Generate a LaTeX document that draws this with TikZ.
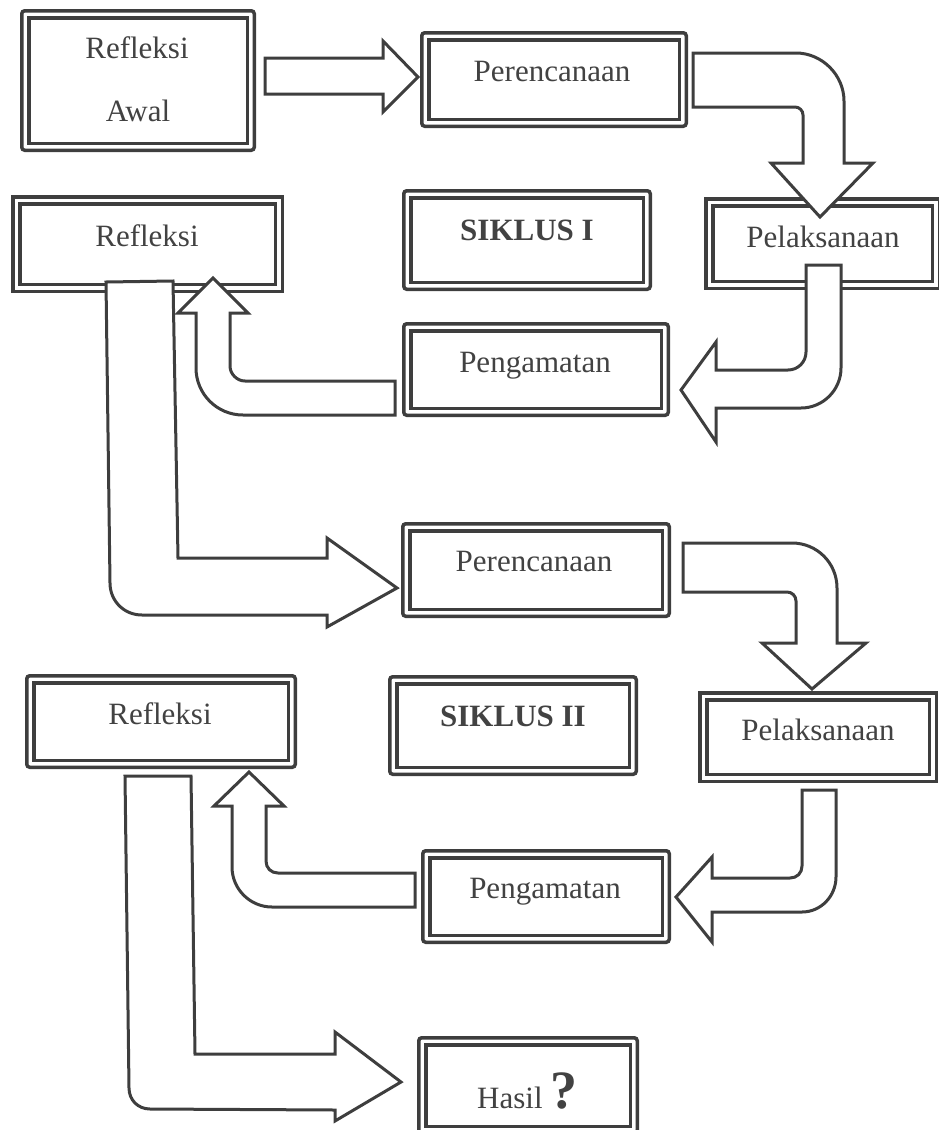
\documentclass[tikz,border=0pt]{standalone}
\usepackage{fontspec}
\setmainfont{Liberation Serif}
\definecolor{ink}{RGB}{62,62,62}
\definecolor{txt}{RGB}{66,66,66}
\tikzset{
 boxo/.style={draw=ink, line width=3.5pt, fill=white, inner sep=0pt, outer sep=0pt, rectangle},
 boxi/.style={draw=ink, line width=3.5pt},
 fat/.style={draw=ink, fill=white, line width=3pt},
 lbl/.style={text=txt, font=\fontsize{31}{62}\selectfont, inner sep=0pt, anchor=base},
 blbl/.style={lbl, font=\fontsize{31}{62}\selectfont\bfseries},
}
\newcommand{\dblbox}[6]{%
  \node[boxo, #6, minimum width={#4-#2-3.5}, minimum height={#5-#3-3.5}] (#1) at ({(#2+#4)/2},{(#3+#5)/2}) {};
  \draw[boxi] ([shift={(7pt,-7pt)}]#1.north west) rectangle ([shift={(-7pt,7pt)}]#1.south east);
}
\begin{document}
\begin{tikzpicture}[x=1pt,y=-1pt]
\useasboundingbox (0,0) rectangle (939,1130);
\clip (0,0) rectangle (939,1130);
% boxes
\dblbox{ra}{20}{9}{256}{152}{rounded corners=3pt}
\dblbox{per1}{420}{31}{688}{128}{rounded corners=3pt}
\dblbox{sik1}{402}{189}{652}{291}{rounded corners=3pt}
\dblbox{pel1}{704}{197}{941}{290}{sharp corners}
\dblbox{pen1}{402}{322}{670}{417}{rounded corners=3pt}
\dblbox{ref1}{11}{195}{284}{293}{sharp corners}
\dblbox{per2}{401}{522}{671}{618}{rounded corners=3pt}
\dblbox{sik2}{388}{675}{638}{776}{rounded corners=3pt}
\dblbox{pel2}{698}{691}{938}{783}{sharp corners}
\dblbox{pen2}{421}{849}{671}{944}{rounded corners=3pt}
\dblbox{ref2}{25}{674}{297}{769}{rounded corners=3pt}
\dblbox{has}{417}{1036}{639}{1135}{rounded corners=3pt}
% block arrows
% Refleksi Awal -> Perencanaan
\draw[fat] (265,58) -- (383,58) -- (383,41) -- (418,77) -- (383,112) -- (383,94) -- (265,94) -- cycle;
% Perencanaan -> Pelaksanaan (I)
\draw[fat] (693,53) -- (796,53) .. controls (822,53) and (844,75) .. (844,101) -- (844,163) -- (873,163) -- (820,217) -- (771,163) -- (803,163) -- (803,115) .. controls (803,110.6) and (799.4,107) .. (795,107) -- (693,107) -- cycle;
% Pelaksanaan -> Pengamatan (I)
\draw[fat] (806,265) -- (841,265) -- (841,368) .. controls (841,390) and (823,408) .. (801,408) -- (716,408) -- (716,442) -- (681,390) -- (716,342) -- (716,370) -- (788,370) .. controls (798,370) and (806,362) .. (806,352) -- cycle;
% Pengamatan -> Refleksi (I)
\draw[fat] (395,381) -- (395,415) -- (243,415) .. controls (217,415) and (196,394) .. (196,368) -- (196,313) -- (178,313) -- (213,278) -- (248,313) -- (230,313) -- (230,366) .. controls (230,374) and (237,381) .. (245,381) -- cycle;
% Refleksi (I) -> Perencanaan (II)
\draw[fat] (106,282) -- (173,281) -- (178,558) -- (327,558) -- (327,538) -- (397,588) -- (327,627) -- (327,615) -- (142,615) .. controls (124,615) and (110,601) .. (110,583) -- cycle;
% Perencanaan -> Pelaksanaan (II)
\draw[fat] (683,543) -- (792,543) .. controls (817,543) and (837,563) .. (837,588) -- (837,643) -- (866,643) -- (812,689) -- (762,643) -- (796,643) -- (796,601) .. controls (796,596) and (792,592) .. (787,592) -- (683,592) -- cycle;
% Pelaksanaan -> Pengamatan (II)
\draw[fat] (802,790) -- (836,790) -- (836,877) .. controls (836,896) and (821,912) .. (802,912) -- (712,912) -- (712,942) -- (676,897) -- (712,857) -- (712,878) -- (790,878) .. controls (797,878) and (802,873) .. (802,866) -- cycle;
% Pengamatan -> Refleksi (II)
\draw[fat] (415,873) -- (415,907) -- (272,907) .. controls (250,907) and (232,889) .. (232,867) -- (232,806) -- (214,806) -- (249,772) -- (284,806) -- (266,806) -- (266,861) .. controls (266,868) and (271,873) .. (278,873) -- cycle;
% Refleksi (II) -> Hasil
\draw[fat] (125,776) -- (191,776) -- (195,1054) -- (335,1054) -- (335,1032) -- (401,1082) -- (335,1121) -- (335,1110) -- (150,1109) .. controls (138,1109) and (129,1100) .. (129,1088) -- cycle;
% texts
\node[lbl] (t-ra1) at (137,58) {Refleksi};
\node[lbl] (t-ra2) at (138,121) {Awal};
\node[lbl] (t-per1) at (552,81) {Perencanaan};
\node[blbl] (t-sik1) at (527,240) {SIKLUS I};
\node[lbl] (t-pel1) at (823,247) {Pelaksanaan};
\node[lbl] (t-pen1) at (535,372) {Pengamatan};
\node[lbl] (t-ref1) at (147,246) {Refleksi};
\node[lbl] (t-per2) at (534,571) {Perencanaan};
\node[blbl] (t-sik2) at (513,726) {SIKLUS II};
\node[lbl] (t-pel2) at (818,740) {Pelaksanaan};
\node[lbl] (t-pen2) at (545,898) {Pengamatan};
\node[lbl] (t-ref2) at (160,724) {Refleksi};
\node[lbl, anchor=base west] (t-has) at (477,1108) {Hasil {\fontsize{54}{60}\selectfont\bfseries ?}};
\end{tikzpicture}
\end{document}
